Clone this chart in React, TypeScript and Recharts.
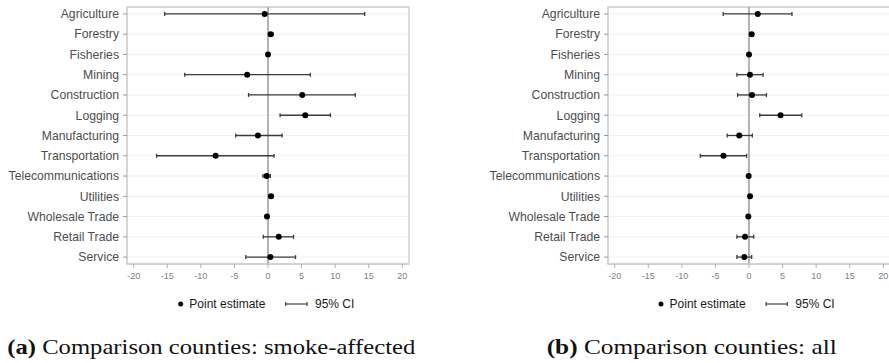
import React from "react";
import {
  ScatterChart,
  Scatter,
  XAxis,
  YAxis,
  CartesianGrid,
  ReferenceLine,
  ReferenceArea,
  ErrorBar,
} from "recharts";

const sectors = [
  "Agriculture",
  "Forestry",
  "Fisheries",
  "Mining",
  "Construction",
  "Logging",
  "Manufacturing",
  "Transportation",
  "Telecommunications",
  "Utilities",
  "Wholesale Trade",
  "Retail Trade",
  "Service",
];

// Panel (a): smoke-affected comparison counties
const estA = [-0.5, 0.4, 0.0, -3.1, 5.1, 5.55, -1.5, -7.8, -0.2, 0.45, -0.15, 1.6, 0.35];
const loA = [-15.4, 0.1, -0.15, -12.4, -2.9, 1.8, -4.8, -16.6, -0.75, 0.15, -0.35, -0.7, -3.3];
const hiA = [14.4, 0.75, 0.15, 6.3, 13.0, 9.3, 2.1, 0.9, 0.35, 0.75, 0.05, 3.8, 4.1];

// Panel (b): all comparison counties
const estB = [1.3, 0.4, 0.0, 0.15, 0.45, 4.7, -1.45, -3.8, -0.05, 0.15, -0.1, -0.6, -0.7];
const loB = [-3.85, 0.15, -0.1, -1.8, -1.7, 1.6, -3.25, -7.25, -0.25, 0.0, -0.25, -1.8, -1.8];
const hiB = [6.4, 0.65, 0.1, 2.1, 2.6, 7.85, 0.5, -0.35, 0.15, 0.3, 0.05, 0.7, 0.4];

const xTicks = [-20, -15, -10, -5, 0, 5, 10, 15, 20];
const yTicks = sectors.map((_, i) => i + 1);

const captionA = "Comparison counties: smoke-affected";
const captionB = "Comparison counties: all";

const build = (est: number[], lo: number[], hi: number[]) =>
  sectors.map((s, i) => ({
    name: s,
    y: i + 1,
    x: est[i],
    err: [est[i] - lo[i], hi[i] - est[i]],
  }));

const dataA = build(estA, loA, hiA);
const dataB = build(estB, loB, hiB);

const FONT = "'Liberation Sans', Arial, sans-serif";
const Y_DOMAIN: [number, number] = [0.66, 13.34];
const X_DOMAIN: [number, number] = [-21, 21];

const Dot = (props: any) => (
  <circle cx={props.cx} cy={props.cy} r={3} fill="#000" />
);

function Panel({ data }: { data: any[] }) {
  return (
    <ScatterChart
      width={420}
      height={300}
      margin={{ top: 7, right: 11, bottom: 6, left: 0 }}
    >
      <CartesianGrid
        vertical={false}
        stroke="#f0f0f0"
        strokeWidth={1}
      />
      <XAxis
        type="number"
        dataKey="x"
        domain={X_DOMAIN}
        ticks={xTicks}
        allowDataOverflow
        height={30}
        tickSize={4}
        tickMargin={5}
        tick={{ fontSize: 9, fill: "#808080", fontFamily: FONT }}
        axisLine={{ stroke: "#cccccc" }}
        tickLine={{ stroke: "#b0b0b0" }}
      />
      <YAxis
        type="number"
        dataKey="y"
        domain={Y_DOMAIN}
        ticks={yTicks}
        reversed
        allowDataOverflow
        interval={0}
        width={127}
        tickSize={4}
        tickMargin={4}
        tickFormatter={(v: number) => sectors[v - 1] ?? ""}
        tick={{ fontSize: 12.2, fill: "#4d4d4d", fontFamily: FONT }}
        axisLine={{ stroke: "#cccccc" }}
        tickLine={{ stroke: "#999999" }}
      />
      <ReferenceArea
        x1={X_DOMAIN[0]}
        x2={X_DOMAIN[1]}
        y1={Y_DOMAIN[0]}
        y2={Y_DOMAIN[1]}
        fill="none"
        stroke="#cccccc"
        strokeWidth={1.3}
        ifOverflow="visible"
      />
      <ReferenceLine x={0} stroke="#b3b3b3" strokeWidth={2} />
      <Scatter data={data} shape={Dot} isAnimationActive={false}>
        <ErrorBar
          dataKey="err"
          direction="x"
          width={2}
          stroke="#3a3a3a"
          strokeWidth={1.3}
          isAnimationActive={false}
        />
      </Scatter>
    </ScatterChart>
  );
}

function LegendRow({ x }: { x: number }) {
  // x: centre of the dot
  return (
    <g fontFamily={FONT} fontSize={12} fill="#1a1a1a">
      <circle cx={x} cy={304} r={2.5} fill="#000" />
      <text x={x + 8.6} y={308.3}>Point estimate</text>
      <line x1={x + 105} y1={304} x2={x + 126.3} y2={304} stroke="#222" strokeWidth={1} />
      <line x1={x + 105} y1={302} x2={x + 105} y2={306} stroke="#222" strokeWidth={1} />
      <line x1={x + 126.3} y1={302} x2={x + 126.3} y2={306} stroke="#222" strokeWidth={1} />
      <text x={x + 134.3} y={308.3}>95% CI</text>
    </g>
  );
}

export default function App() {
  return (
    <div
      style={{
        position: "absolute",
        left: 0,
        top: 0,
        width: 889,
        height: 363,
        overflow: "hidden",
        background: "#fff",
      }}
    >
      <div style={{ position: "absolute", left: 0, top: 0 }}>
        <Panel data={dataA} />
      </div>
      <div style={{ position: "absolute", left: 481, top: 0 }}>
        <Panel data={dataB} />
      </div>
      <svg
        width={889}
        height={363}
        style={{ position: "absolute", left: 0, top: 0, pointerEvents: "none" }}
      >
        <LegendRow x={180.7} />
        <LegendRow x={661} />
        <text
          x={7.3}
          y={354}
          fontFamily="'Liberation Serif', 'DejaVu Serif', serif"
          fontSize={21}
          fill="#111"
          textLength={408}
          lengthAdjust="spacingAndGlyphs"
        >
          <tspan fontWeight="bold">(a)</tspan> {captionA}
        </text>
        <text
          x={546.7}
          y={354}
          fontFamily="'Liberation Serif', 'DejaVu Serif', serif"
          fontSize={21}
          fill="#111"
          textLength={290}
          lengthAdjust="spacingAndGlyphs"
        >
          <tspan fontWeight="bold">(b)</tspan> {captionB}
        </text>
      </svg>
    </div>
  );
}
